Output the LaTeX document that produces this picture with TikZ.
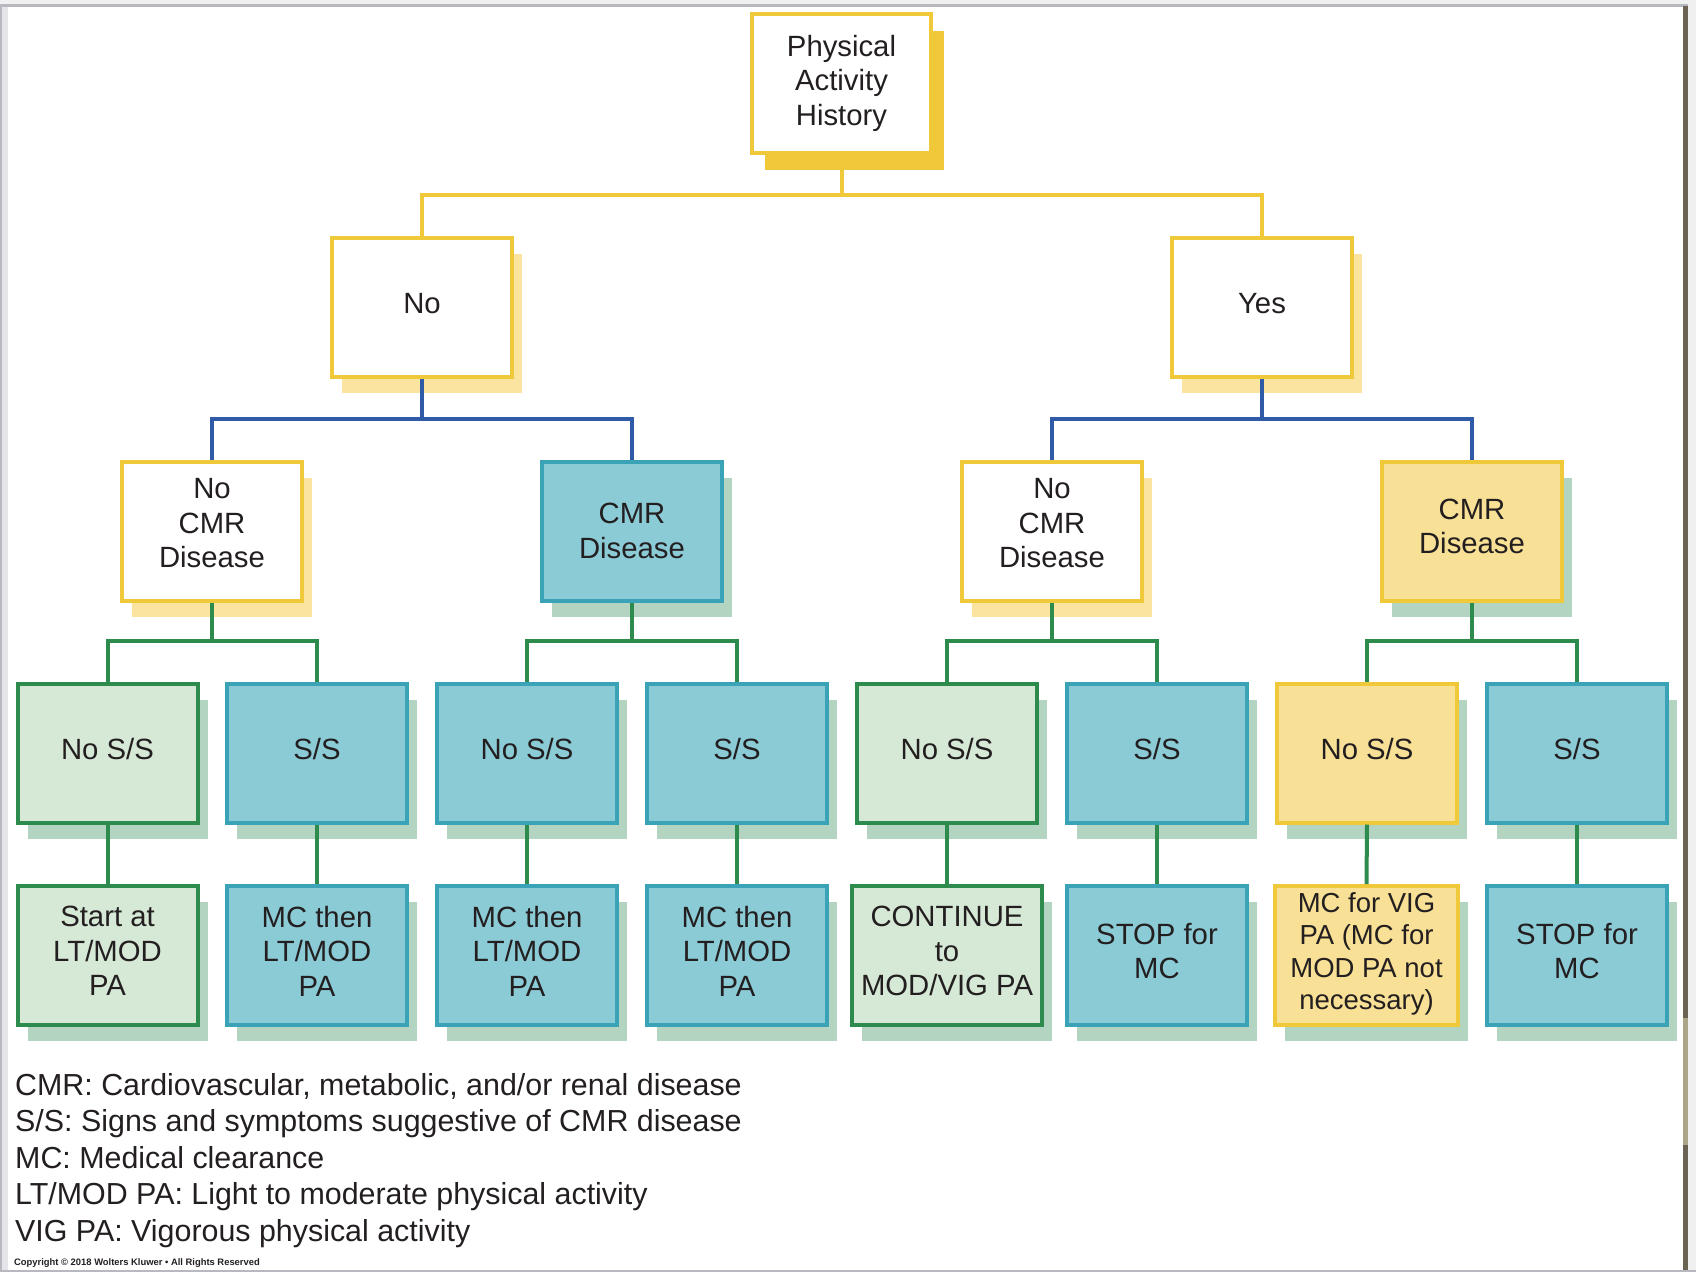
\documentclass[tikz,border=0pt]{standalone}
\usepackage{fontspec}
\setmainfont{Liberation Sans}
\usetikzlibrary{shadows}
\definecolor{ylwline}{RGB}{240,201,58}
\definecolor{ylwpale}{RGB}{250,228,160}
\definecolor{ylwfill}{RGB}{248,224,150}
\definecolor{tealfill}{RGB}{139,203,214}
\definecolor{tealline}{RGB}{58,163,184}
\definecolor{grnfill}{RGB}{214,232,214}
\definecolor{grnline}{RGB}{46,139,78}
\definecolor{grnshadow}{RGB}{178,212,192}
\definecolor{blueline}{RGB}{46,90,166}
\definecolor{txtcol}{RGB}{35,31,32}
\definecolor{pagegrey}{RGB}{240,240,241}
\definecolor{framegrey}{RGB}{184,184,192}
\definecolor{lightgrey}{RGB}{229,229,233}
\definecolor{darkbar}{RGB}{106,98,82}
\definecolor{lightbar}{RGB}{172,166,136}
\newcommand\bxfont{\fontsize{29.3}{34.6}\selectfont}
\newcommand\legfont{\fontsize{30.4}{36.5}\selectfont}
\begin{document}
\begin{tikzpicture}[x=1pt,y=-1pt,
  box/.style={draw, line width=4pt, minimum width=180pt, minimum height=139pt,
    inner sep=0pt, align=center, font=\bxfont, text=txtcol, text depth=9pt},
  shdw/.style={general shadow={fill=#1, shadow xshift=10pt, shadow yshift=-16pt}},
  wy/.style={box, draw=ylwline, fill=white, shdw=ylwpale},
  tl/.style={box, draw=tealline, fill=tealfill, shdw=grnshadow},
  gr/.style={box, draw=grnline, fill=grnfill, shdw=grnshadow},
  yy/.style={box, draw=ylwline, fill=ylwfill, shdw=grnshadow},
  ycon/.style={draw=ylwline, line width=4pt},
  bcon/.style={draw=blueline, line width=4pt},
  gcon/.style={draw=grnline, line width=4pt},
  leg/.style={anchor=base west, inner sep=0pt, font=\legfont, text=txtcol}]
\useasboundingbox (0,0) rectangle (1696,1272);
\fill[white] (0,0) rectangle (1696,1272);
% page frame
\fill[pagegrey] (0,0) rectangle (1696,4);
\fill[framegrey] (0,4) rectangle (1696,6.5);
\fill[framegrey] (0,4) rectangle (2,1272);
\fill[lightgrey] (2,6.5) rectangle (8,1272);
\fill[darkbar] (1683,6) rectangle (1688,1270);
\fill[lightbar] (1683,1018) rectangle (1688,1145);
\fill[pagegrey] (1688,0) rectangle (1696,1272);
\fill[framegrey] (0,1269.5) rectangle (1696,1272);

% nodes
\node[box, draw=ylwline, fill=white, minimum width=179pt, text depth=7pt,
  general shadow={fill=ylwline, shadow xshift=13pt, shadow yshift=-17pt}]
  (top) at (841.5,83.5) {Physical\\Activity\\History};

\node[wy] (no)  at (422,307.5)  {No};
\node[wy] (yes) at (1262,307.5) {Yes};

\node[wy, text depth=15.5pt] (a3) at (212,531)  {No\\CMR\\Disease};
\node[tl, text depth=0.5pt] (b3) at (632,531)  {CMR\\Disease};
\node[wy, text depth=15.5pt] (c3) at (1052,531) {No\\CMR\\Disease};
\node[yy, text depth=9.5pt] (d3) at (1472,531) {CMR\\Disease};

\node[gr] (a4) at (107.5,753) {No S/S};
\node[tl] (b4) at (317,753)   {S/S};
\node[tl] (c4) at (527,753)   {No S/S};
\node[tl] (d4) at (737,753)   {S/S};
\node[gr] (e4) at (947,753)   {No S/S};
\node[tl] (f4) at (1157,753)  {S/S};
\node[yy] (g4) at (1367,753)  {No S/S};
\node[tl] (h4) at (1577,753)  {S/S};

\node[gr] (a5) at (107.5,955.5) {Start at\\LT/MOD\\PA};
\node[tl] (b5) at (317,955.5)   {MC then\\LT/MOD\\PA};
\node[tl] (c5) at (527,955.5)   {MC then\\LT/MOD\\PA};
\node[tl] (d5) at (737,955.5)   {MC then\\LT/MOD\\PA};
\node[gr, minimum width=190pt] (e5) at (947,955.5) {CONTINUE\\to\\MOD/VIG PA};
\node[tl] (f5) at (1157,955.5)  {STOP for\\MC};
\node[yy, minimum width=183pt, font=\fontsize{27.5}{32.4}\selectfont] (g5) at (1366.5,955.5)
  {MC for VIG\\PA (MC for\\MOD PA not\\necessary)};
\node[tl] (h5) at (1577,955.5)  {STOP for\\MC};

% connectors
\coordinate (j0) at (0,195);
\coordinate (j1) at (0,419);
\coordinate (j2) at (0,641);
\draw[ycon] (no.north) -- (no.north |- j0) -- (yes.north |- j0) -- (yes.north);
\draw[ycon] (top.south) -- (top.south |- j0);

\draw[bcon] (a3.north) -- (a3.north |- j1) -- (b3.north |- j1) -- (b3.north);
\draw[bcon] (no.south) -- (no.south |- j1);
\draw[bcon] (c3.north) -- (c3.north |- j1) -- (d3.north |- j1) -- (d3.north);
\draw[bcon] (yes.south) -- (yes.south |- j1);

\draw[gcon] (a4.north) -- (a4.north |- j2) -- (b4.north |- j2) -- (b4.north);
\draw[gcon] (a3.south) -- (a3.south |- j2);
\draw[gcon] (c4.north) -- (c4.north |- j2) -- (d4.north |- j2) -- (d4.north);
\draw[gcon] (b3.south) -- (b3.south |- j2);
\draw[gcon] (e4.north) -- (e4.north |- j2) -- (f4.north |- j2) -- (f4.north);
\draw[gcon] (c3.south) -- (c3.south |- j2);
\draw[gcon] (g4.north) -- (g4.north |- j2) -- (h4.north |- j2) -- (h4.north);
\draw[gcon] (d3.south) -- (d3.south |- j2);

\draw[gcon] (a4.south) -- (a5.north);
\draw[gcon] (b4.south) -- (b5.north);
\draw[gcon] (c4.south) -- (c5.north);
\draw[gcon] (d4.south) -- (d5.north);
\draw[gcon] (e4.south) -- (e5.north);
\draw[gcon] (f4.south) -- (f5.north);
\draw[gcon] (g4.south) -- (g5.north);
\draw[gcon] (h4.south) -- (h5.north);

% legend
\node[leg] (l1) at (15,1095)   {CMR: Cardiovascular, metabolic, and/or renal disease};
\node[leg] (l2) at (15,1131.5) {S/S: Signs and symptoms suggestive of CMR disease};
\node[leg] (l3) at (15,1168)   {MC: Medical clearance};
\node[leg] (l4) at (15,1204.5) {LT/MOD PA: Light to moderate physical activity};
\node[leg] (l5) at (15,1241)   {VIG PA: Vigorous physical activity};
\node[anchor=base west, inner sep=0pt, font=\fontsize{9.4}{11}\selectfont\bfseries, text=txtcol]
  (copy) at (14,1265) {Copyright © 2018 Wolters Kluwer • All Rights Reserved};
\end{tikzpicture}
\end{document}
